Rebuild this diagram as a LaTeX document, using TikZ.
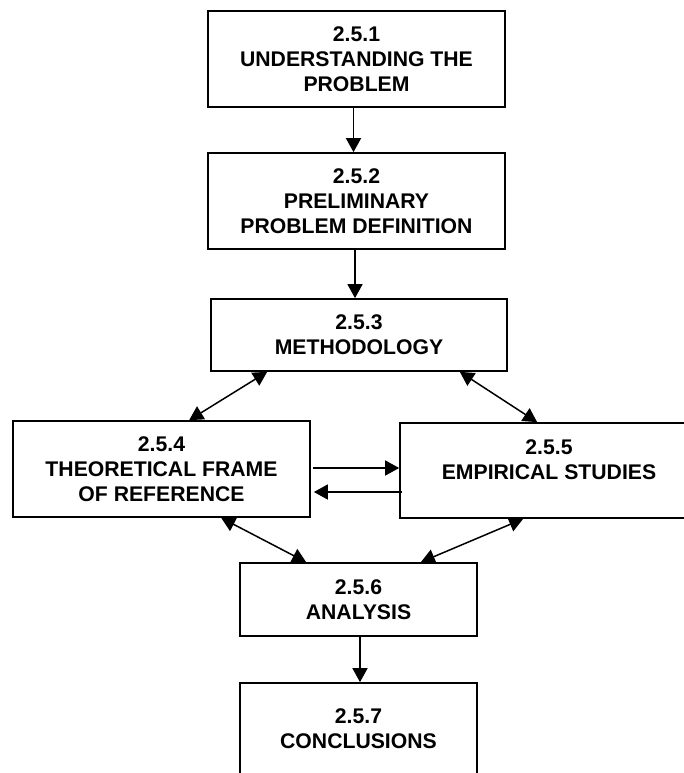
\documentclass[tikz,border=0pt]{standalone}
\usepackage{fontspec}
\setmainfont{Liberation Sans}
\usetikzlibrary{arrows.meta,calc}
\begin{document}
\begin{tikzpicture}[x=1pt,y=-1pt,
  txt/.style={align=center, inner sep=0pt, font=\bfseries\fontsize{21.2}{25}\selectfont},
  box/.style={txt, draw, line width=1.7pt},
  arr/.style={-{Triangle[length=14pt,width=15pt]}, line width=1.5pt},
  dbl/.style={{Triangle[length=14pt,width=15pt]}-{Triangle[length=14pt,width=15pt]}, line width=1.5pt}
]
\clip (0,0) rectangle (684,773);
\fill[white] (0,0) rectangle (684,773);

\node[box, minimum width=297pt, minimum height=96pt] (B1) at (356.5,59) {2.5.1\\UNDERSTANDING THE\\PROBLEM};
\node[box, minimum width=297pt, minimum height=96pt] (B2) at (356.5,201) {2.5.2\\PRELIMINARY\\PROBLEM DEFINITION};
\node[box, minimum width=296pt, minimum height=72pt] (B3) at (359,335) {2.5.3\\METHODOLOGY};
\node[box, minimum width=297pt, minimum height=96pt] (B4) at (161.5,469) {2.5.4\\THEORETICAL FRAME\\OF REFERENCE};
\node[box, minimum width=298pt, minimum height=95pt] (B5) at (549,470.5) {};
\node[txt] (T5) at (549,459.5) {2.5.5\\EMPIRICAL STUDIES};
\node[box, minimum width=237pt, minimum height=73pt] (B6) at (358.5,599.5) {2.5.6\\ANALYSIS};
\node[box, minimum width=237pt, minimum height=130pt] (B7) at (358.5,748) {};
\node[txt] (T7) at (358.5,729) {2.5.7\\CONCLUSIONS};

\draw[arr] ($(B1.south)+(-3,0)$) -- ($(B2.north)+(-3,0)$);
\draw[arr] ($(B2.south)+(-1.5,0)$) -- ($(B3.north)+(-4,0)$);
\draw[dbl] ($(B3.south west)+(57,0)$) -- ($(B4.north west)+(177,0)$);
\draw[dbl] ($(B3.south east)+(-48,0)$) -- ($(B5.north west)+(138,0)$);
\draw[arr] ($(B4.east)+(2,-1)$) -- ($(B4.east -| B5.west)+(0,-1)$);
\draw[arr] ($(B4.east -| B5.west)+(3,23)$) -- ($(B4.east)+(3,23)$);
\draw[dbl] ($(B4.south west)+(209,0)$) -- ($(B6.north west)+(67,0)$);
\draw[dbl] ($(B5.south west)+(124,0)$) -- ($(B6.north east)+(-57,0)$);
\draw[arr] ($(B6.south)+(1.5,0)$) -- ($(B7.north)+(1.5,0)$);
\end{tikzpicture}
\end{document}
